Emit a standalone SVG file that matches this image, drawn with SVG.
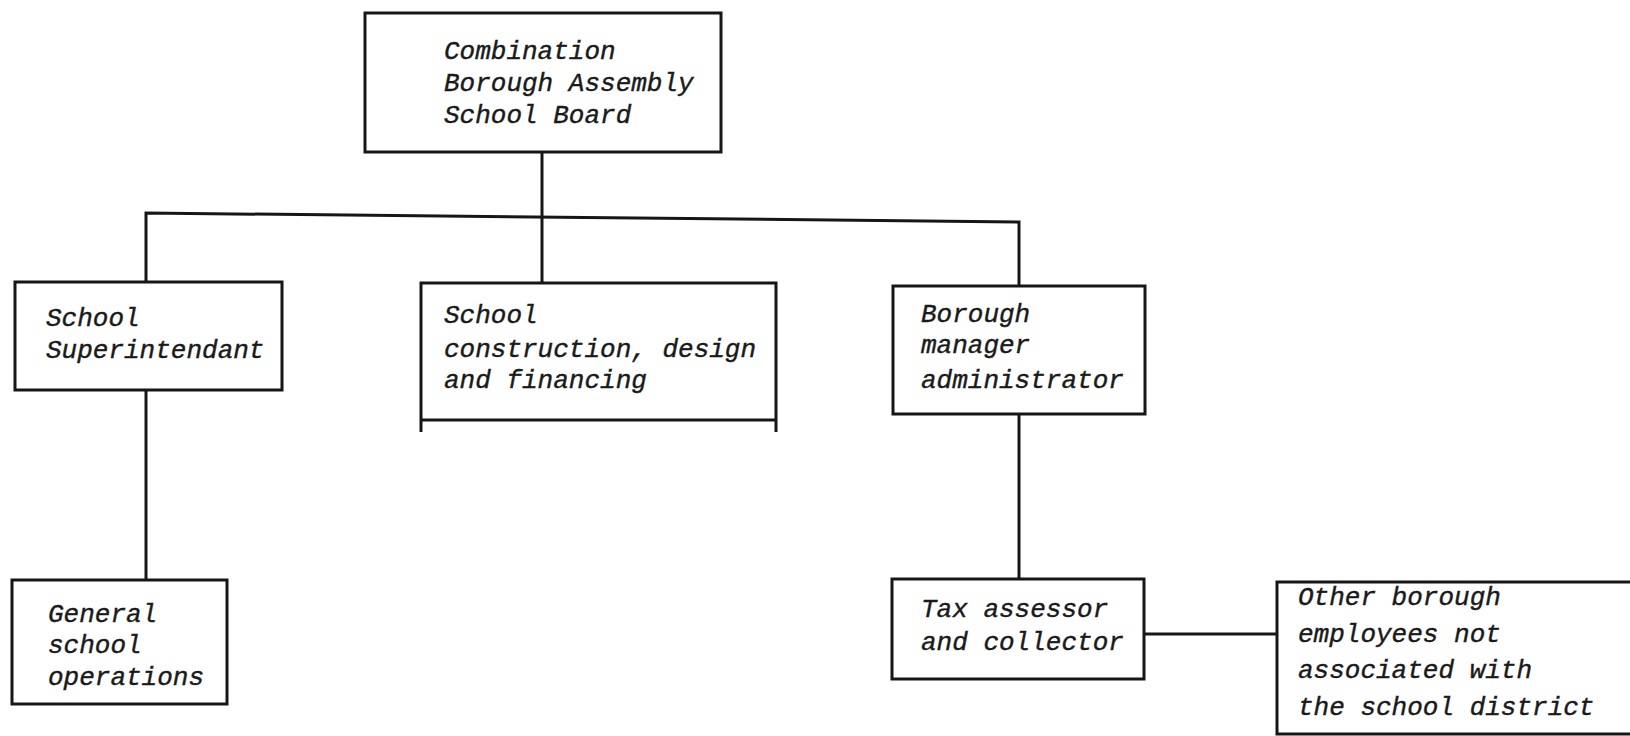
<svg xmlns="http://www.w3.org/2000/svg" width="1630" height="736" viewBox="0 0 1630 736">
<style>
.bx{fill:none;stroke:#161616;stroke-width:3;stroke-linejoin:miter}
.ln{fill:none;stroke:#161616;stroke-width:3}
.t{font-family:"Liberation Mono","Courier New",monospace;font-style:italic;font-size:26px;fill:#1a1a1a;stroke:#1a1a1a;stroke-width:0.4}
</style>
<rect width="1630" height="736" fill="#ffffff"/>
<g id="connectors">
<path class="ln" d="M542 151 V283"/>
<path class="ln" d="M146 282 V213 L1019 222 V286"/>
<path class="ln" d="M146 390 V580"/>
<path class="ln" d="M1019 414 V579"/>
<path class="ln" d="M1144 634 H1277"/>
</g>
<g id="n-board">
<rect class="bx" x="365" y="13" width="356" height="139"/>
<text class="t" x="444" y="59">Combination</text>
<text class="t" x="444" y="91">Borough Assembly</text>
<text class="t" x="444" y="123">School Board</text>
</g>
<g id="n-superintendant">
<rect class="bx" x="15" y="282" width="267" height="108"/>
<text class="t" x="46" y="326">School</text>
<text class="t" x="46" y="358">Superintendant</text>
</g>
<g id="n-construction">
<path class="bx" d="M421 432 V283 H776 V432 M421 420 H776"/>
<text class="t" x="444" y="323">School</text>
<text class="t" x="444" y="357">construction, design</text>
<text class="t" x="444" y="388">and financing</text>
</g>
<g id="n-borough">
<rect class="bx" x="893" y="286" width="252" height="128"/>
<text class="t" x="921" y="322">Borough</text>
<text class="t" x="921" y="353">manager</text>
<text class="t" x="921" y="388">administrator</text>
</g>
<g id="n-general">
<rect class="bx" x="12" y="580" width="215" height="124"/>
<text class="t" x="48" y="622">General</text>
<text class="t" x="48" y="653">school</text>
<text class="t" x="48" y="685">operations</text>
</g>
<g id="n-tax">
<rect class="bx" x="892" y="579" width="252" height="100"/>
<text class="t" x="921" y="617">Tax assessor</text>
<text class="t" x="921" y="650">and collector</text>
</g>
<g id="n-other">
<path class="bx" d="M1630 582 H1277 V734 H1630"/>
<text class="t" x="1298" y="605">Other borough</text>
<text class="t" x="1298" y="642">employees not</text>
<text class="t" x="1298" y="678">associated with</text>
<text class="t" x="1298" y="715">the school district</text>
</g>
</svg>
